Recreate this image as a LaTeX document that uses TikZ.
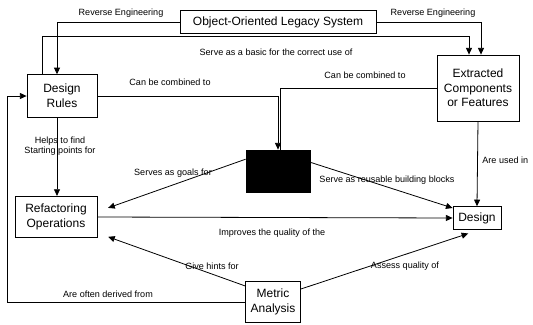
\documentclass[tikz,border=0pt]{standalone}
\usepackage{fontspec}
\setmainfont{Liberation Sans}
\usetikzlibrary{arrows.meta,positioning}

\begin{document}
\begin{tikzpicture}[x=0.75pt, y=-0.75pt, font=\fontsize{6.8}{7.8}\selectfont, line width=0.6pt,
  >={Triangle[length=5pt,width=4.5pt]}]
\tikzset{
  box/.style={draw, align=center, inner sep=1pt, font=\fontsize{9}{11}\selectfont},
  lbl/.style={inner sep=0pt}
}
\useasboundingbox (0,0) rectangle (533,325);
% boxes
\node[box, minimum width=147pt, minimum height=17pt] (legacy) at (278,22) {Object-Oriented Legacy System};
\node[box, minimum width=52.5pt, minimum height=32pt] (rules) at (62,96) {Design\\Rules};
\node[box, minimum width=61.5pt, minimum height=49.5pt] (extracted) at (478,88) {Extracted\\Components\\or Features};
\node[box, fill=black, minimum width=48pt, minimum height=31.5pt] (black) at (278,171) {};
\node[box, minimum width=61.5pt, minimum height=31pt] (refact) at (56,217) {Refactoring\\Operations};
\node[box, minimum width=36pt, minimum height=17pt] (design) at (477,218) {Design};
\node[box, minimum width=41pt, minimum height=31pt] (metric) at (273,302) {Metric\\Analysis};
\coordinate (rail) at (7,0);
% connectors
\draw[->] (legacy.west) -| ([xshift=-3.75pt]rules.north);
\draw[->] (legacy.east) -| ([xshift=2.25pt]extracted.north);
\draw[->] ([xshift=-15pt]rules.north) -- ++(0,-38) -| ([xshift=-6.75pt]extracted.north);
\draw[->] (rules.east) -| (black.north);
\draw (extracted.west) -| ([xshift=1.5pt]black.north);
\draw[->] ([xshift=-3.75pt]rules.south) -- ([xshift=-3.75pt]rules.south |- refact.north);
\draw[->, shorten >=8.5pt] (black.160) -- ([yshift=4pt]refact.east);
\draw[->] (black.15) -- ([yshift=7.5pt]design.west);
\draw[->] (refact.east) -- (design.west);
\draw[->] (extracted.south) -- (design.north);
\draw[->, shorten >=8.5pt] (metric.150) -- ([yshift=-12pt]refact.east);
\draw[->, shorten >=9pt] (metric.25) -- ([xshift=2pt]design.south);
\draw[->] (metric.west) -| (rail |- rules.west) -- (rules.west);
% labels
\node[lbl] at (121,13) {Reverse Engineering};
\node[lbl] at (433,13) {Reverse Engineering};
\node[lbl] at (276,52) {Serve as a basic for the correct use of};
\node[lbl] at (170,82) {Can be combined to};
\node[lbl] at (365,75) {Can be combined to};
\node[lbl, align=center] at (60,146) {Helps to find\\Starting points for};
\node[lbl] at (173,173) {Serves as goals for};
\node[lbl] at (387,180) {Serve as reusable building blocks};
\node[lbl, anchor=west] at (482,160) {Are used in};
\node[lbl] at (272,233) {Improves the quality of the};
\node[lbl] at (212,266) {Give hints for};
\node[lbl] at (405,266) {Assess quality of};
\node[lbl] at (108,294) {Are often derived from};
\end{tikzpicture}
\end{document}
